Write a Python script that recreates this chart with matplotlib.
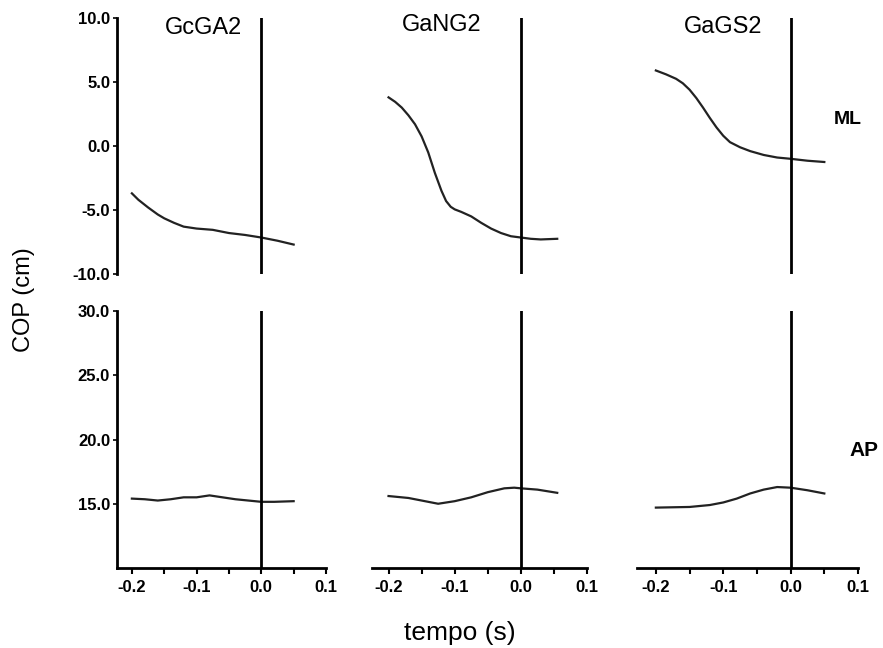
import numpy as np
import matplotlib
matplotlib.use('Agg')
import matplotlib.pyplot as plt
from matplotlib.ticker import MultipleLocator

plt.rcParams['font.family'] = ['Liberation Sans', 'DejaVu Sans']

groups = ['GcGA2', 'GaNG2', 'GaGS2']

# ML (medio-lateral) COP traces
ml_t = [
    [-0.2, -0.19, -0.175, -0.16, -0.15, -0.135, -0.12, -0.1, -0.075, -0.05,
     -0.025, 0.0, 0.025, 0.05],
    [-0.2, -0.19, -0.18, -0.17, -0.16, -0.15, -0.14, -0.13, -0.12, -0.113,
     -0.106, -0.1, -0.09, -0.075, -0.06, -0.045, -0.03, -0.015, 0.0, 0.015,
     0.03, 0.055],
    [-0.2, -0.185, -0.17, -0.16, -0.15, -0.14, -0.13, -0.12, -0.11, -0.1,
     -0.09, -0.075, -0.06, -0.04, -0.02, 0.0, 0.025, 0.05],
]
ml_y = [
    [-3.7, -4.2, -4.8, -5.35, -5.65, -6.0, -6.3, -6.45, -6.55, -6.8,
     -6.95, -7.15, -7.4, -7.7],
    [3.8, 3.45, 3.0, 2.4, 1.7, 0.75, -0.5, -2.1, -3.5, -4.3,
     -4.75, -4.95, -5.15, -5.5, -6.0, -6.45, -6.8, -7.05, -7.15, -7.25,
     -7.3, -7.25],
    [5.9, 5.6, 5.25, 4.9, 4.4, 3.75, 3.0, 2.2, 1.45, 0.8,
     0.3, -0.1, -0.4, -0.7, -0.9, -1.0, -1.15, -1.25],
]

# AP (antero-posterior) COP traces
ap_t = [
    [-0.2, -0.18, -0.16, -0.14, -0.12, -0.1, -0.08, -0.06, -0.04, -0.02, 0.0, 0.02, 0.05],
    [-0.2, -0.17, -0.145, -0.125, -0.1, -0.075, -0.05, -0.025, -0.01, 0.0, 0.025, 0.055],
    [-0.2, -0.15, -0.12, -0.1, -0.08, -0.06, -0.04, -0.02, 0.0, 0.025, 0.05],
]
ap_y = [
    [15.4, 15.35, 15.25, 15.35, 15.5, 15.5, 15.65, 15.5, 15.35, 15.25, 15.15, 15.15, 15.2],
    [15.6, 15.45, 15.2, 15.0, 15.2, 15.5, 15.9, 16.2, 16.25, 16.2, 16.1, 15.85],
    [14.7, 14.75, 14.9, 15.1, 15.4, 15.8, 16.1, 16.3, 16.25, 16.05, 15.8],
]

ml_ticks = [-10.0, -5.0, 0.0, 5.0, 10.0]
ap_ticks = [15.0, 20.0, 25.0, 30.0]
x_ticks = [-0.2, -0.1, 0.0, 0.1]

W, H = 883, 648
fig = plt.figure(figsize=(W / 100, H / 100), dpi=100)

# panel columns in pixels: (left, width, xmin)
cols = [(117, 209, -0.223), (372, 215, -0.225), (637, 221, -0.228)]
top_row = (18, 274)
bot_row = (311, 568)

def px_axes(left, width, top, bottom):
    return fig.add_axes([left / W, 1 - bottom / H, width / W, (bottom - top) / H])

tick_font = dict(fontsize=12, fontweight='bold')

for i, (left, width, xmin) in enumerate(cols):
    ax1 = px_axes(left, width, *top_row)
    ax2 = px_axes(left, width, *bot_row)
    ax1.plot(ml_t[i], ml_y[i], color='#222222', lw=1.6)
    ax2.plot(ap_t[i], ap_y[i], color='#222222', lw=1.6)
    for ax in (ax1, ax2):
        ax.axvline(0, color='black', lw=2)
        ax.set_xlim(xmin, 0.1)
        for s in ax.spines.values():
            s.set_linewidth(2)
            s.set_visible(False)
    ax1.set_ylim(-10, 10)
    ax2.set_ylim(10, 30)

    ax1.set_xticks([])
    ax2.set_xticks(x_ticks)
    ax2.xaxis.set_minor_locator(MultipleLocator(0.05))
    ax2.set_xticklabels(['%.1f' % v for v in x_ticks], **tick_font)
    ax2.tick_params(axis='x', which='both', direction='out', length=4, width=1.5, pad=5)
    ax2.spines['bottom'].set_visible(True)

    if i == 0:
        ax1.spines['left'].set_visible(True)
        ax2.spines['left'].set_visible(True)
        ax1.set_yticks(ml_ticks)
        ax1.set_yticklabels(['%.1f' % v for v in ml_ticks], **tick_font)
        ax2.set_yticks(ap_ticks)
        ax2.set_yticklabels(['%.1f' % v for v in ap_ticks], **tick_font)
        for ax in (ax1, ax2):
            ax.tick_params(axis='y', direction='out', length=3, width=1.2, pad=2)
    else:
        ax1.set_yticks([])
        ax2.set_yticks([])

# group titles
for name, x, y in zip(groups, [203, 442, 723], [28, 25, 27]):
    fig.text(x / W, 1 - y / H, name, fontsize=17, ha='center', va='center')

fig.text(848 / W, 1 - 119 / H, 'ML', fontsize=14, fontweight='bold', ha='center', va='center')
fig.text(864 / W, 1 - 450 / H, 'AP', fontsize=15, fontweight='bold', ha='center', va='center')

fig.text(24 / W, 1 - 300 / H, 'COP (cm)', fontsize=17, rotation=90, ha='center', va='center')
fig.text(460 / W, 1 - 633 / H, 'tempo (s)', fontsize=19, ha='center', va='center')

fig.savefig('out.png', dpi=100)
